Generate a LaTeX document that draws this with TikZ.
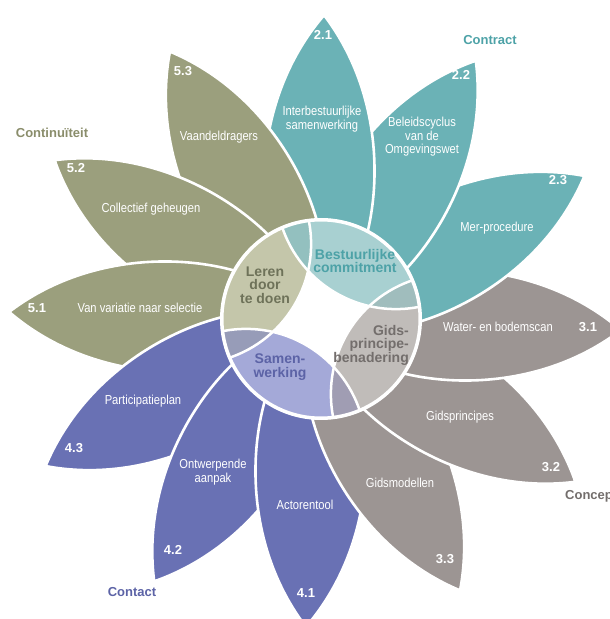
\documentclass[tikz,border=0pt]{standalone}
\usepackage{fontspec}
\setmainfont{Liberation Sans}
\newfontfamily\narrowfont{Liberation Sans}[FakeStretch=0.86]
\usetikzlibrary{positioning}

% petal and hub colours, one family per quadrant
\definecolor{contractteal}{HTML}{6BB2B6}
\definecolor{contractlight}{HTML}{A8D0D1}
\definecolor{contracttext}{HTML}{4DA2A7}
\definecolor{conceptgray}{HTML}{9C9593}
\definecolor{conceptlight}{HTML}{C0BCB9}
\definecolor{concepttext}{HTML}{736E6C}
\definecolor{contactblue}{HTML}{6971B4}
\definecolor{contactlight}{HTML}{A4A9D8}
\definecolor{contacttext}{HTML}{5C63A6}
\definecolor{continuolive}{HTML}{9B9F7D}
\definecolor{continulight}{HTML}{C4C6AA}
\definecolor{continutext}{HTML}{6E7259}
\definecolor{continugroup}{HTML}{8A8D6B}
\definecolor{lensteal}{HTML}{93C0BF}
\definecolor{lenstealgray}{HTML}{A0BDBD}
\definecolor{lensmauve}{HTML}{A09DB3}
\definecolor{lensslate}{HTML}{979CB8}

% one leaf of the flower: #1 = direction, #2 = fill
\newcommand{\petal}[2]{%
  \filldraw[petal, fill=#2, shift={(leafbase)}, rotate=#1-1.7]
    (0,0) .. controls (40,60) and (200,86) .. (306,0)
    .. controls (200,-86) and (40,-60) .. (0,0) -- cycle;
}

\begin{document}
\begin{tikzpicture}[x=1pt, y=1pt,
    petal/.style={draw=white, line width=2.6pt, line join=round},
    petaltext/.style={text=white, font={\narrowfont\fontsize{13}{13.5}\selectfont}, align=center, inner sep=0pt},
    petalnum/.style={text=white, font={\bfseries\fontsize{13}{13}\selectfont}, inner sep=0pt},
    grouplabel/.style={font={\bfseries\fontsize{13}{13}\selectfont}, inner sep=0pt},
    hublabel/.style={font={\bfseries\fontsize{14}{13.5}\selectfont}, align=center, inner sep=0pt}]

  \useasboundingbox (0,0) rectangle (610,619);
  \coordinate (hub) at (321,300);
  \coordinate (leafbase) at (315,298);

  % leaves, each one over its clockwise neighbour
  \foreach \ang/\col in {0/conceptgray, 30/contractteal, 60/contractteal,
      90/contractteal, 120/continuolive, 150/continuolive, 180/continuolive,
      210/contactblue, 240/contactblue, 270/contactblue, 300/conceptgray,
      330/conceptgray}
    {\petal{\ang}{\col}}
  % close the ring: 3.1 lies on top of 3.2
  \begin{scope}
    \clip (leafbase) -- ++(400,-12) -- ++(0,-300) -- cycle;
    \petal{0}{conceptgray}
  \end{scope}

  % hub of four overlapping circles
  \fill[white] (hub) circle (101pt);
  \begin{scope}
    \clip (hub) circle (99pt);
    \fill[contractlight] (hub) ++(60:150) circle (120pt);
    \fill[continulight] (hub) ++(150:150) circle (120pt);
    \fill[contactlight] (hub) ++(240:150) circle (120pt);
    \fill[conceptlight] (hub) ++(330:150) circle (120pt);
    \begin{scope}
      \clip (hub) ++(60:150) circle (120pt);
      \fill[lensteal] (hub) ++(150:150) circle (120pt);
      \fill[lenstealgray] (hub) ++(330:150) circle (120pt);
    \end{scope}
    \begin{scope}
      \clip (hub) ++(240:150) circle (120pt);
      \fill[lensslate] (hub) ++(150:150) circle (120pt);
      \fill[lensmauve] (hub) ++(330:150) circle (120pt);
    \end{scope}
    \foreach \ang in {60,150,240,330}
      \draw[white, line width=2.5pt] (hub) ++(\ang:150) circle (120pt);
  \end{scope}
  \draw[white, line width=3pt] (hub) circle (99pt);

  % hub labels
  \node[hublabel, text=contracttext] (bestuur) at (355,358) {Bestuurlijke\\commitment};
  \node[hublabel, text=continutext] (leren) at (265,334) {Leren\\door\\te doen};
  \node[hublabel, text=contacttext] (samen) at (280,252) {Samen-\\werking};
  \node[hublabel, text=concepttext, align=right, anchor=east] (gids) at (409,274) {Gids-\\principe-\\benadering};

  % Contract
  \node[petalnum] (num21) at (323,584) {2.1};
  \node[petaltext] (lbl21) at (322,500) {Interbestuurlijke\\samenwerking};
  \node[petalnum] (num22) at (461,544) {2.2};
  \node[petaltext] (lbl22) at (422,482) {Beleidscyclus\\van de\\Omgevingswet};
  \node[petalnum] (num23) at (558,439) {2.3};
  \node[petaltext] (lbl23) at (497,391) {Mer-procedure};
  \node[grouplabel, text=contracttext] (contract) at (490,579) {Contract};

  % Concept
  \node[petalnum] (num31) at (588,292) {3.1};
  \node[petaltext] (lbl31) at (498,292) {Water- en bodemscan};
  \node[petalnum] (num32) at (551,152) {3.2};
  \node[petaltext] (lbl32) at (460,202) {Gidsprincipes};
  \node[petalnum] (num33) at (445,60) {3.3};
  \node[petaltext] (lbl33) at (400,136) {Gidsmodellen};
  \node[grouplabel, text=concepttext, anchor=west] (concept) at (565,123) {Concept};

  % Contact
  \node[petalnum] (num41) at (306,26) {4.1};
  \node[petaltext] (lbl41) at (305,114) {Actorentool};
  \node[petalnum] (num42) at (173,69) {4.2};
  \node[petaltext] (lbl42) at (213,147) {Ontwerpende\\aanpak};
  \node[petalnum] (num43) at (74,171) {4.3};
  \node[petaltext] (lbl43) at (143,218) {Participatieplan};
  \node[grouplabel, text=contacttext] (contact) at (132,27) {Contact};

  % Continuiteit
  \node[petalnum] (num51) at (37,311) {5.1};
  \node[petaltext] (lbl51) at (140,311) {Van variatie naar selectie};
  \node[petalnum] (num52) at (76,451) {5.2};
  \node[petaltext] (lbl52) at (151,410) {Collectief geheugen};
  \node[petalnum] (num53) at (183,548) {5.3};
  \node[petaltext] (lbl53) at (219,482) {Vaandeldragers};
  \node[grouplabel, text=continugroup] (continu) at (52,486) {Continuïteit};
\end{tikzpicture}
\end{document}
